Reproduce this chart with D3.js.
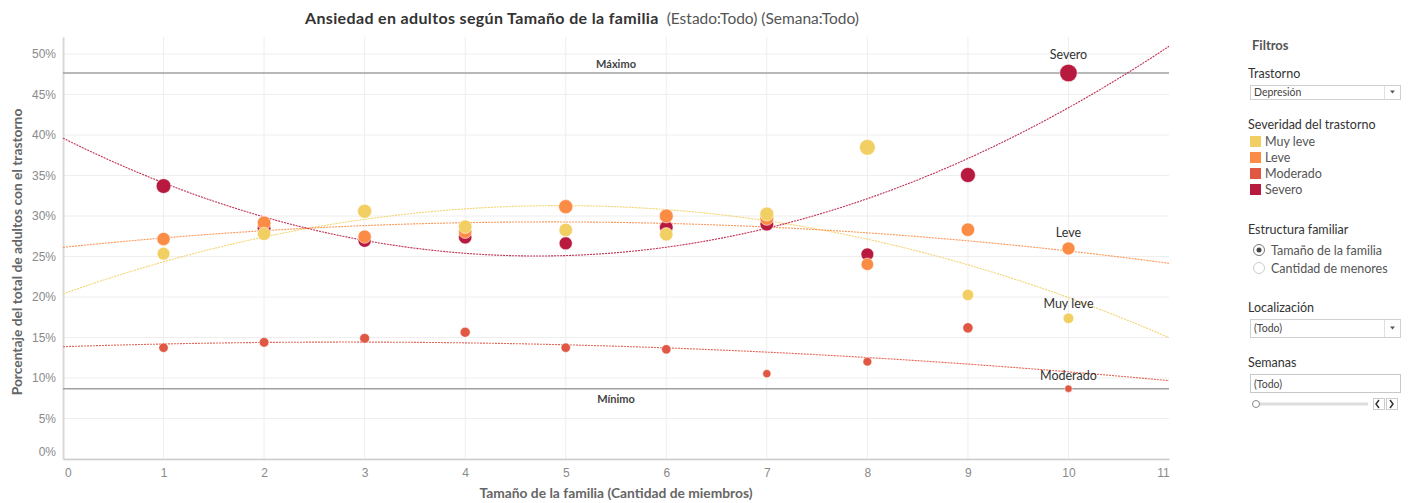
<!DOCTYPE html>
<html><head><meta charset="utf-8">
<script src="https://cdn.jsdelivr.net/npm/d3@7"></script>
<style>
body{margin:0;background:#fff;}
svg{display:block;font-family:Lato,"Open Sans",sans-serif;}
</style></head>
<body><svg id="c" width="1410" height="503"></svg>
<script>
const categories = [1,2,3,4,5,6,7,8,9,10];
const severities = ["Muy leve","Leve","Moderado","Severo"];
const muyLeve  = [0.2535,0.2780,0.3058,0.2868,0.2827,0.2774,0.3025,0.3848,0.2025,0.1737];
const leve     = [0.2716,0.2914,0.2745,0.2806,0.3115,0.3000,0.2970,0.2404,0.2831,0.2600];
const moderado = [0.1374,0.1440,0.1490,0.1564,0.1374,0.1354,0.1053,0.1201,0.1620,0.0868];
const severo   = [0.3370,0.2848,0.2695,0.2737,0.2663,0.2860,0.2900,0.2527,0.3506,0.4765];
const xTicks = [0,1,2,3,4,5,6,7,8,9,10,11];
const yTicks = [0,0.05,0.10,0.15,0.20,0.25,0.30,0.35,0.40,0.45,0.50];
const colors = ["#f2cf62","#fb8c46","#e05744","#b8193e"];
const seriesValues = [muyLeve, leve, moderado, severo];

const svg = d3.select("#c");
const x = d3.scaleLinear().domain([0,11]).range([63,1169]);
const y = d3.scaleLinear().domain([0,0.521]).range([459,37]);
const r = d3.scaleSqrt().domain([0,0.48]).range([0,8.8]);

// grid
svg.append("g").selectAll("line").data(yTicks).join("line")
  .attr("x1",x(0)).attr("x2",x(11)).attr("y1",d=>y(d)).attr("y2",d=>y(d))
  .attr("stroke","#eeeeee").attr("stroke-width",1);
svg.append("g").selectAll("line").data(xTicks.slice(1,11)).join("line")
  .attr("x1",d=>x(d)).attr("x2",d=>x(d)).attr("y1",y(0)).attr("y2",37)
  .attr("stroke","#eeeeee").attr("stroke-width",1);

// axes
const yAxis = svg.append("g").attr("transform",`translate(${x(0)},0)`)
  .call(d3.axisLeft(y).tickValues(yTicks).tickFormat(d3.format(".0%")).tickSize(0).tickPadding(7));
yAxis.select(".domain").attr("stroke","#d9d9d9").attr("stroke-width",2);
yAxis.selectAll("text").attr("fill","#8a8a8a").style("font-size","12px");
yAxis.selectAll(".tick").filter(d=>d===0).select("text").attr("dy","-0.3em");
const xAxis = svg.append("g").attr("transform",`translate(0,${y(0)})`)
  .call(d3.axisBottom(x).tickValues(xTicks).tickSize(0).tickPadding(9));
xAxis.select(".domain").attr("stroke","#cccccc").attr("stroke-width",1.5);
xAxis.selectAll("text").attr("fill","#8a8a8a").style("font-size","12px");
xAxis.selectAll(".tick").filter(d=>d===0).select("text").attr("dx","0.4em");
xAxis.selectAll(".tick").filter(d=>d===11).select("text").attr("dx","-0.5em");

// reference lines
const allVals = seriesValues.flat();
const maxV = d3.max(allVals), minV = d3.min(allVals);
[[maxV,"Máximo",-5],[minV,"Mínimo",14]].forEach(([v,l,dy])=>{
  svg.append("line").attr("x1",x(0)).attr("x2",x(11)).attr("y1",y(v)).attr("y2",y(v))
    .attr("stroke","#a0a0a0").attr("stroke-width",1.5);
  svg.append("text").attr("x",(x(0)+x(11))/2).attr("y",y(v)+dy).attr("text-anchor","middle")
    .attr("fill","#444").style("font-size","11px").style("font-weight","bold").text(l);
});

// quadratic trend
function quadFit(xs, ys){
  let S=[0,0,0,0,0], T=[0,0,0];
  xs.forEach((xi,i)=>{ for(let k=0;k<5;k++) S[k]+=Math.pow(xi,k); for(let k=0;k<3;k++) T[k]+=ys[i]*Math.pow(xi,k); });
  const A=[[S[0],S[1],S[2],T[0]],[S[1],S[2],S[3],T[1]],[S[2],S[3],S[4],T[2]]];
  for(let i=0;i<3;i++){ for(let j=i+1;j<3;j++){ const f=A[j][i]/A[i][i]; for(let k=i;k<4;k++) A[j][k]-=f*A[i][k]; } }
  const c=[0,0,0];
  for(let i=2;i>=0;i--){ let s=A[i][3]; for(let k=i+1;k<3;k++) s-=A[i][k]*c[k]; c[i]=s/A[i][i]; }
  return t=>c[0]+c[1]*t+c[2]*t*t;
}
const line = d3.line().x(d=>x(d[0])).y(d=>y(d[1]));
const samples = d3.range(0,11.001,0.05);
svg.append("defs").append("clipPath").attr("id","clip").append("rect")
  .attr("x",x(0)).attr("y",37).attr("width",x(11)-x(0)).attr("height",y(0)-37);
const tg = svg.append("g").attr("clip-path","url(#clip)");
seriesValues.forEach((vals,i)=>{
  const f = quadFit(categories, vals);
  tg.append("path").datum(samples.map(t=>[t,f(t)])).attr("d",line)
    .attr("fill","none").attr("stroke",colors[i]).attr("stroke-width",1.1)
    .attr("stroke-dasharray","2,1").attr("opacity",0.9);
});

// points: draw Severo first, Muy leve last
[3,2,1,0].forEach(i=>{
  svg.append("g").selectAll("circle").data(seriesValues[i]).join("circle")
    .attr("cx",(d,j)=>x(categories[j])).attr("cy",d=>y(d)).attr("r",d=>r(d))
    .attr("fill",colors[i]).attr("stroke","#fff").attr("stroke-width",0.8).attr("stroke-opacity",0.7);
});

// end labels
seriesValues.forEach((vals,i)=>{
  const v = vals[vals.length-1];
  svg.append("text").attr("x",x(categories[categories.length-1])).attr("y",y(v)-r(v)-5)
    .attr("text-anchor","middle").attr("fill","#333").style("font-size","12.5px").text(severities[i]);
});

// titles
const tA = svg.append("text").attr("y",24).attr("fill","#333").style("font-size","16px").style("font-weight","bold")
  .style("letter-spacing","0.35px").text("Ansiedad en adultos según Tamaño de la familia");
const tB = svg.append("text").attr("y",24).attr("fill","#555").style("font-size","15.5px")
  .text("(Estado:Todo) (Semana:Todo)");
const wA = tA.node().getComputedTextLength(), wB = tB.node().getComputedTextLength();
const gap = 8, tStart = 582 - (wA+gap+wB)/2;
tA.attr("x",tStart); tB.attr("x",tStart+wA+gap);

svg.append("text").attr("transform",`translate(22,${(37+459)/2 + 4}) rotate(-90)`).attr("text-anchor","middle")
  .attr("fill","#666").style("font-size","13.8px").style("font-weight","bold")
  .text("Porcentaje del total de adultos con el trastorno");
svg.append("text").attr("x",(x(0)+x(11))/2).attr("y",498).attr("text-anchor","middle")
  .attr("fill","#666").style("font-size","13.8px").style("font-weight","bold")
  .text("Tamaño de la familia (Cantidad de miembros)");

// right panel
const P = svg.append("g");
P.append("text").attr("x",1252).attr("y",50).attr("fill","#555").style("font-size","13px").style("font-weight","bold").text("Filtros");
function head(t,yy){ P.append("text").attr("x",1248).attr("y",yy).attr("fill","#333").style("font-size","12.5px").text(t); }
function dropdown(t,yy,h){
  P.append("rect").attr("x",1250.5).attr("y",yy+0.5).attr("width",150).attr("height",h).attr("fill","#fff").attr("stroke","#d0d0d0");
  P.append("line").attr("x1",1384.5).attr("x2",1384.5).attr("y1",yy+1).attr("y2",yy+h).attr("stroke","#e0e0e0");
  P.append("text").attr("x",1254).attr("y",yy+h/2+4).attr("fill","#444").style("font-size","10.5px").text(t);
  P.append("path").attr("d",`M1390,${yy+h/2-1.5}l5,0l-2.5,3z`).attr("fill","#555");
}
head("Trastorno",78); dropdown("Depresión",85,14);
head("Severidad del trastorno",129);
severities.forEach((s,i)=>{
  P.append("rect").attr("x",1250).attr("y",136+i*16).attr("width",11).attr("height",11).attr("fill",colors[i]);
  P.append("text").attr("x",1265).attr("y",146+i*16).attr("fill","#555").style("font-size","12.5px").text(s);
});
head("Estructura familiar",234);
P.append("circle").attr("cx",1259).attr("cy",250).attr("r",5.5).attr("fill","#fff").attr("stroke","#777");
P.append("circle").attr("cx",1259).attr("cy",250).attr("r",2.5).attr("fill","#444");
P.append("text").attr("x",1271).attr("y",255).attr("fill","#555").style("font-size","12.5px").text("Tamaño de la familia");
P.append("circle").attr("cx",1259).attr("cy",268).attr("r",5.5).attr("fill","#fff").attr("stroke","#ccc");
P.append("text").attr("x",1271).attr("y",273).attr("fill","#555").style("font-size","12.5px").text("Cantidad de menores");
head("Localización",312); dropdown("(Todo)",319,18);
head("Semanas",367);
P.append("rect").attr("x",1250.5).attr("y",374.5).attr("width",150).attr("height",18).attr("fill","#fff").attr("stroke","#c8c8c8");
P.append("text").attr("x",1254).attr("y",388).attr("fill","#444").style("font-size","10.5px").text("(Todo)");
P.append("line").attr("x1",1258).attr("x2",1368).attr("y1",404).attr("y2",404).attr("stroke","#ddd").attr("stroke-width",3);
P.append("circle").attr("cx",1256).attr("cy",404).attr("r",3.5).attr("fill","#fff").attr("stroke","#888");
[[1373,"M1379,400l-3,4l3,4"],[1386,"M1390,400l3,4l-3,4"]].forEach(([bx,p])=>{
  P.append("rect").attr("x",bx+0.5).attr("y",398.5).attr("width",11).attr("height",11).attr("fill","#fff").attr("stroke","#ccc");
  P.append("path").attr("d",p).attr("fill","none").attr("stroke","#333").attr("stroke-width",1.5);
});
</script></body></html>
